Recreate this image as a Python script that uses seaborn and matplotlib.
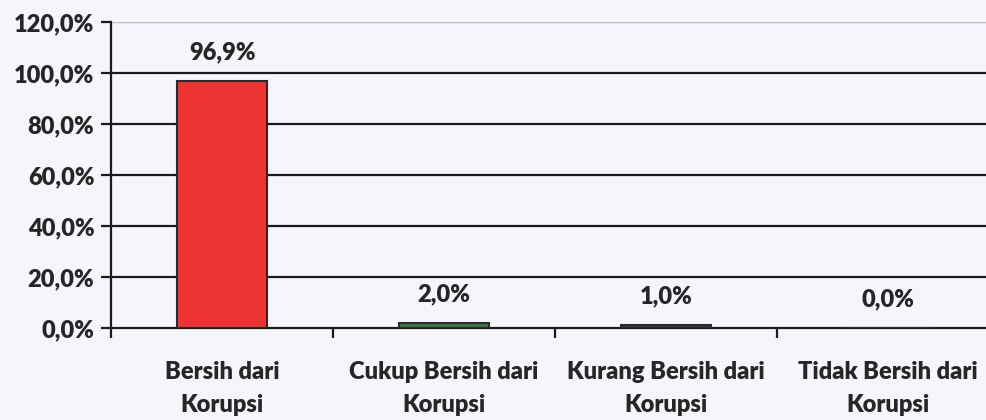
import matplotlib
matplotlib.use("Agg")
import matplotlib.pyplot as plt
import seaborn as sns
import pandas as pd
from matplotlib.ticker import FuncFormatter, FixedLocator

categories = ["Bersih dari\nKorupsi", "Cukup Bersih dari\nKorupsi",
              "Kurang Bersih dari\nKorupsi", "Tidak Bersih dari\nKorupsi"]
values = [96.9, 2.0, 1.0, 0.0]
value_labels = ["96,9%", "2,0%", "1,0%", "0,0%"]
colors = ["#ee3333", "#2f7a3c", "#3e3e38", "#3e3e38"]
yticks = [0, 20, 40, 60, 80, 100, 120]

sns.set_style("white")
plt.rcParams['font.family'] = ['Lato', 'DejaVu Sans']
plt.rcParams['font.weight'] = 'heavy'

FS = 17
TXT = "#262626"
bg = "#f5f6fb"
fig = plt.figure(figsize=(9.87, 4.2), dpi=100, facecolor=bg)
ax = fig.add_axes([111/987, (420-328)/420, (999-111)/987, (328-22)/420])
ax.set_facecolor(bg)

df = pd.DataFrame({"cat": categories, "val": values})
sns.barplot(data=df, x="cat", y="val", hue="cat", palette=colors, legend=False,
            saturation=1, width=0.405, edgecolor="#2a2a2a", linewidth=1.5, ax=ax, zorder=3)

ax.set_xlim(-0.5, 3.5)
ax.set_ylim(0, 120)
ax.yaxis.set_major_locator(FixedLocator(yticks))
ax.yaxis.set_major_formatter(FuncFormatter(lambda v, p: f"{v:.1f}".replace(".", ",") + "%"))
for y in yticks[1:-1]:
    ax.axhline(y, color="#1a1a1a", lw=1.6, zorder=1)
ax.axhline(120, color="#b8bccc", lw=1.0, zorder=1)

for s in ["top", "right"]:
    ax.spines[s].set_visible(False)
ax.spines["left"].set_color("#1a1a1a")
ax.spines["left"].set_linewidth(1.6)
ax.spines["bottom"].set_color("#1a1a1a")
ax.spines["bottom"].set_linewidth(1.6)

ax.set_xticks([0, 1, 2, 3])
ax.set_xticklabels(categories, fontsize=FS, fontweight="heavy", color=TXT, linespacing=1.6)
ax.tick_params(axis="x", which="major", bottom=False, length=0, pad=24)
ax.set_xticks([-0.5, 0.5, 1.5, 2.5], minor=True)
ax.tick_params(axis="x", which="minor", bottom=True, length=7, width=1.6,
               color="#1a1a1a", direction="out")
ax.tick_params(axis="y", left=True, length=7, width=1.6, color="#1a1a1a", direction="out",
               labelsize=FS, labelcolor=TXT, pad=5)
for lab in ax.get_yticklabels():
    lab.set_fontweight("heavy")

for i, (v, t) in enumerate(zip(values, value_labels)):
    ax.annotate(t, (i, v), xytext=(0, 13), textcoords="offset points",
                ha="center", va="bottom", fontsize=FS, fontweight="heavy", color=TXT)

ax.set_xlabel("")
ax.set_ylabel("")
fig.savefig("out.png", dpi=100, facecolor=bg)
